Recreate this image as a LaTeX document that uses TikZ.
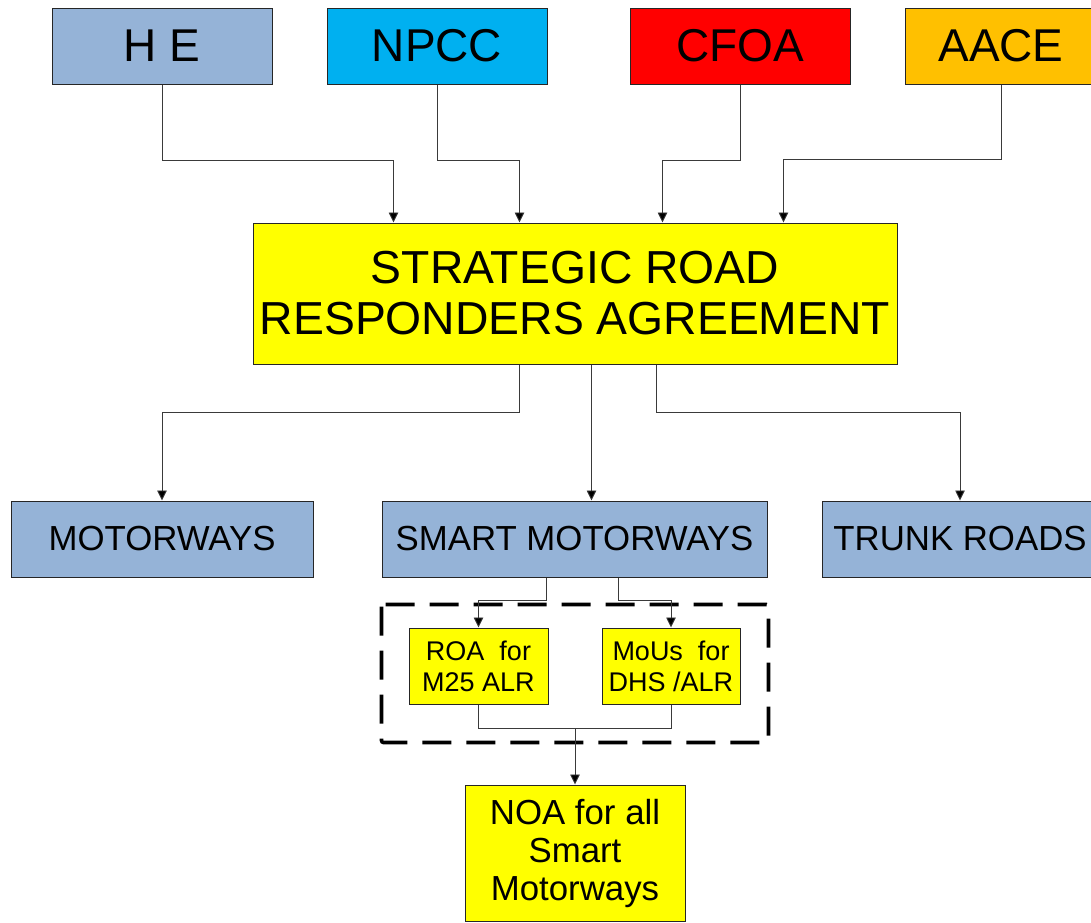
\documentclass[tikz,border=0pt]{standalone}
\usepackage{fontspec}
\setmainfont{Liberation Sans}
\usetikzlibrary{arrows.meta,calc}
\definecolor{bgrey}{HTML}{95B3D7}
\definecolor{ccyan}{HTML}{00B0F0}
\definecolor{cred}{HTML}{FF0000}
\definecolor{corange}{HTML}{FFC000}
\definecolor{cyel}{HTML}{FFFF00}
\definecolor{lgrey}{HTML}{3A3A3A}
\tikzset{
  box/.style={draw=black!85, line width=1pt, inner sep=0pt, align=center, text=black},
  topbox/.style={box, minimum width=220pt, minimum height=76pt, font=\fontsize{46}{51}\selectfont},
  midbox/.style={box, fill=bgrey, minimum height=76pt, font=\fontsize{34.8}{38}\selectfont},
  smallbox/.style={box, fill=cyel, minimum width=139pt, minimum height=76pt, font=\fontsize{27}{31}\selectfont},
  arr/.style={draw=lgrey, line width=0.9pt, -{Triangle[width=9.5pt,length=10pt,fill=black]}},
  ln/.style={draw=lgrey, line width=0.9pt},
  dashbox/.style={draw=black, line width=3.6pt, dash pattern=on 29pt off 15pt, rounded corners=2pt}
}
\begin{document}
\begin{tikzpicture}[x=1pt,y=-1pt]
\clip (0,0) rectangle (1091,922);
\fill[white] (0,0) rectangle (1091,922);
% top boxes
\node[topbox, fill=bgrey] (he) at (162,46) {H E};
\node[topbox, fill=ccyan] (npcc) at (437,46) {NPCC};
\node[topbox, fill=cred] (cfoa) at (740,46) {CFOA};
\node[topbox, fill=corange, minimum width=192pt] (aace) at (1001,46) {AACE};
% agreement
\node[box, fill=cyel, minimum width=644pt, minimum height=141pt, font=\fontsize{46.3}{51}\selectfont] (srra) at (575,293.5) {STRATEGIC ROAD\\RESPONDERS AGREEMENT};
% middle row
\node[midbox, minimum width=302pt] (mot) at (162,539) {MOTORWAYS};
\node[midbox, minimum width=385pt] (smart) at (574.5,539) {SMART MOTORWAYS};
\node[midbox, minimum width=276pt] (trunk) at (960,539) {TRUNK ROADS};
% small boxes
\node[smallbox] (roa) at (478.5,666) {ROA\ \ for\\M25 ALR};
\node[smallbox, minimum width=138pt] (mou) at (671,666) {MoUs\ \ for\\DHS /ALR};
% NOA
\node[box, fill=cyel, minimum width=220pt, minimum height=136pt, font=\fontsize{34.8}{38}\selectfont] (noa) at (575,853) {NOA for all\\Smart\\Motorways};
% dashed group
\draw[dashbox] ($(roa.north west)+(-27,-23)$) rectangle ($(mou.south east)+(28,38)$);
% connectors top
\draw[arr] (he.south) -- ++(0,76) -| ($(srra.north west)+(141,0)$);
\draw[arr] (npcc.south) -- ++(0,76) -| ($(srra.north west)+(267,0)$);
\draw[arr] (cfoa.south) -- ++(0,76) -| ($(srra.north west)+(410,0)$);
\draw[arr] (aace.south) -- ++(0,75) -| ($(srra.north west)+(531,0)$);
% connectors middle
\draw[arr] ($(srra.south west)+(267,0)$) -- ++(0,48) -| (mot.north);
\draw[arr] ($(srra.south west)+(339,0)$) coordinate (s2) -- (s2 |- smart.north);
\draw[arr] ($(srra.south west)+(404,0)$) -- ++(0,48) -| (trunk.north);
% smart to small
\draw[arr] ($(smart.south west)+(165,0)$) -- ++(0,23) -| (roa.north);
\draw[arr] ($(smart.south west)+(237,0)$) -- ++(0,23) -| (mou.north);
% merge
\draw[ln] (roa.south) -- ++(0,24) coordinate (m) -| (mou.south);
\draw[arr] (noa.north |- m) -- (noa.north);
\end{tikzpicture}
\end{document}
